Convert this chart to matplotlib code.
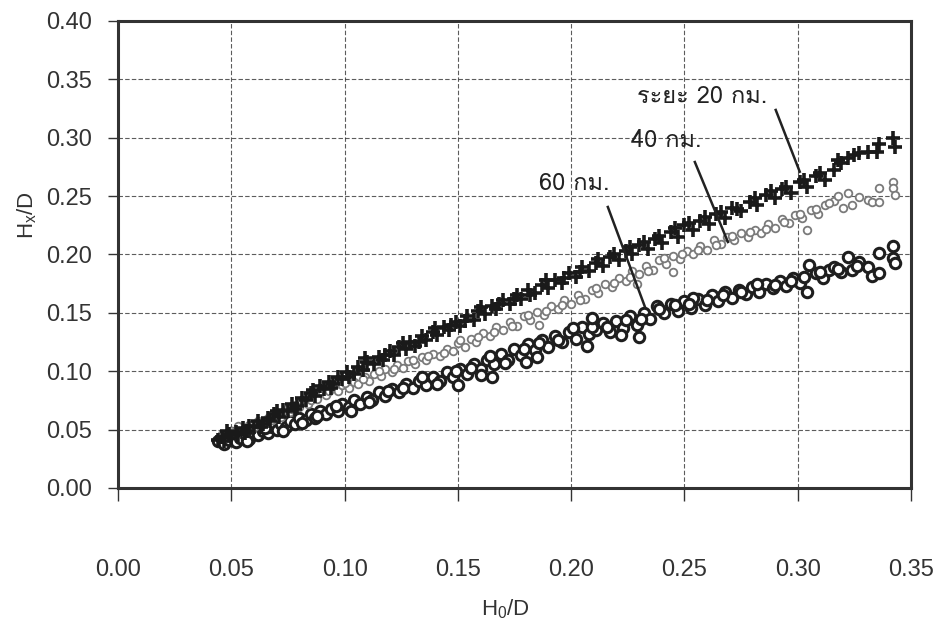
# H0/D vs Hx/D at 20, 40 and 60 km

import matplotlib
matplotlib.use('Agg')
import matplotlib.pyplot as plt
from matplotlib import font_manager
from matplotlib.ft2font import FT2Font

# readings (H0/D, Hx/D)
pts_20km = [
    (0.044, 0.041), (0.046, 0.044), (0.047, 0.040), (0.049, 0.046), (0.050, 0.043),
    (0.052, 0.048), (0.053, 0.045), (0.055, 0.051), (0.057, 0.049), (0.058, 0.053),
    (0.060, 0.052), (0.062, 0.057), (0.064, 0.055), (0.066, 0.060), (0.067, 0.057),
    (0.069, 0.063), (0.071, 0.061), (0.073, 0.067), (0.075, 0.066), (0.077, 0.072),
    (0.079, 0.070), (0.081, 0.077), (0.083, 0.075), (0.085, 0.081), (0.087, 0.079),
    (0.089, 0.087), (0.091, 0.085), (0.093, 0.091), (0.095, 0.089), (0.097, 0.095),
    (0.099, 0.093), (0.101, 0.099), (0.104, 0.098), (0.106, 0.104), (0.108, 0.101),
    (0.110, 0.108), (0.113, 0.106), (0.115, 0.112), (0.117, 0.110), (0.120, 0.117),
    (0.122, 0.114), (0.124, 0.121), (0.127, 0.119), (0.129, 0.125), (0.131, 0.122),
    (0.134, 0.130), (0.136, 0.127), (0.139, 0.134), (0.141, 0.131), (0.144, 0.138),
    (0.146, 0.135), (0.149, 0.142), (0.151, 0.139), (0.154, 0.147), (0.157, 0.144),
    (0.159, 0.152), (0.162, 0.149), (0.165, 0.156), (0.167, 0.153), (0.170, 0.161),
    (0.173, 0.158), (0.176, 0.165), (0.178, 0.162), (0.181, 0.170), (0.184, 0.167),
    (0.187, 0.174), (0.190, 0.171), (0.193, 0.178), (0.196, 0.176), (0.199, 0.184),
    (0.202, 0.181), (0.205, 0.189), (0.208, 0.186), (0.211, 0.193), (0.214, 0.190),
    (0.217, 0.198), (0.221, 0.195), (0.224, 0.203), (0.227, 0.200), (0.230, 0.208),
    (0.234, 0.205), (0.237, 0.213), (0.240, 0.210), (0.244, 0.219), (0.247, 0.215),
    (0.250, 0.225), (0.254, 0.221), (0.257, 0.229), (0.261, 0.226), (0.264, 0.235),
    (0.268, 0.231), (0.271, 0.240), (0.275, 0.237), (0.279, 0.245), (0.282, 0.242),
    (0.286, 0.251), (0.290, 0.248), (0.293, 0.256), (0.297, 0.253), (0.301, 0.262),
    (0.304, 0.258), (0.308, 0.267), (0.312, 0.264), (0.316, 0.272), (0.319, 0.278),
    (0.322, 0.283), (0.327, 0.287), (0.331, 0.288), (0.335, 0.288), (0.336, 0.295),
    (0.342, 0.300), (0.343, 0.292),
    (0.048, 0.049), (0.056, 0.047), (0.063, 0.052), (0.070, 0.066), (0.078, 0.068),
    (0.086, 0.084), (0.094, 0.086), (0.102, 0.095), (0.109, 0.111), (0.118, 0.114),
    (0.126, 0.124), (0.133, 0.125), (0.140, 0.137), (0.147, 0.140), (0.153, 0.143),
    (0.160, 0.155), (0.168, 0.158), (0.175, 0.162), (0.182, 0.165), (0.189, 0.178),
    (0.197, 0.180), (0.204, 0.185), (0.212, 0.196), (0.219, 0.200), (0.226, 0.206),
    (0.232, 0.211), (0.239, 0.216), (0.246, 0.223), (0.252, 0.227), (0.259, 0.232),
    (0.266, 0.236), (0.273, 0.239), (0.281, 0.248), (0.288, 0.254), (0.295, 0.258),
    (0.303, 0.264), (0.310, 0.270), (0.318, 0.281), (0.325, 0.285),
]

pts_40km = [
    (0.046, 0.046), (0.048, 0.043), (0.050, 0.049), (0.052, 0.046), (0.054, 0.051),
    (0.056, 0.049), (0.058, 0.054), (0.060, 0.052), (0.062, 0.057), (0.064, 0.055),
    (0.066, 0.060), (0.068, 0.058), (0.070, 0.063), (0.072, 0.061), (0.074, 0.067),
    (0.076, 0.065), (0.078, 0.071), (0.080, 0.069), (0.082, 0.074), (0.084, 0.072),
    (0.086, 0.078), (0.088, 0.076), (0.090, 0.082), (0.092, 0.080), (0.095, 0.086),
    (0.097, 0.083), (0.099, 0.088), (0.102, 0.086), (0.104, 0.091), (0.106, 0.089),
    (0.109, 0.095), (0.111, 0.092), (0.113, 0.098), (0.116, 0.096), (0.118, 0.102),
    (0.121, 0.099), (0.123, 0.105), (0.126, 0.103), (0.128, 0.109), (0.131, 0.106),
    (0.134, 0.112), (0.136, 0.110), (0.139, 0.115), (0.142, 0.113), (0.145, 0.119),
    (0.148, 0.117), (0.150, 0.124), (0.153, 0.121), (0.156, 0.128), (0.158, 0.125),
    (0.161, 0.133), (0.164, 0.130), (0.167, 0.138), (0.170, 0.135), (0.173, 0.142),
    (0.176, 0.139), (0.179, 0.147), (0.182, 0.144), (0.185, 0.151), (0.188, 0.148),
    (0.191, 0.156), (0.194, 0.153), (0.197, 0.161), (0.200, 0.158), (0.203, 0.165),
    (0.206, 0.162), (0.209, 0.170), (0.212, 0.167), (0.215, 0.175), (0.218, 0.172),
    (0.221, 0.180), (0.224, 0.177), (0.227, 0.186), (0.230, 0.183), (0.233, 0.190),
    (0.236, 0.187), (0.239, 0.195), (0.242, 0.192), (0.245, 0.199), (0.248, 0.196),
    (0.251, 0.203), (0.254, 0.200), (0.257, 0.207), (0.260, 0.204), (0.263, 0.212),
    (0.266, 0.209), (0.269, 0.215), (0.272, 0.212), (0.275, 0.218), (0.278, 0.215),
    (0.281, 0.221), (0.284, 0.218), (0.287, 0.226), (0.290, 0.223), (0.293, 0.230),
    (0.296, 0.227), (0.299, 0.234), (0.302, 0.231), (0.304, 0.221), (0.306, 0.238),
    (0.309, 0.235), (0.312, 0.242), (0.316, 0.246), (0.320, 0.240), (0.322, 0.253),
    (0.324, 0.242), (0.327, 0.249), (0.331, 0.247), (0.333, 0.245), (0.336, 0.257),
    (0.336, 0.245), (0.342, 0.262), (0.342, 0.257), (0.343, 0.251), (0.229, 0.175),
    (0.186, 0.140), (0.245, 0.185),
    (0.053, 0.053), (0.061, 0.055), (0.069, 0.061), (0.077, 0.068), (0.085, 0.075),
    (0.093, 0.083), (0.100, 0.090), (0.108, 0.093), (0.115, 0.100), (0.122, 0.102),
    (0.130, 0.110), (0.137, 0.113), (0.144, 0.116), (0.151, 0.127), (0.159, 0.129),
    (0.166, 0.134), (0.174, 0.139), (0.181, 0.148), (0.189, 0.152), (0.196, 0.157),
    (0.204, 0.161), (0.211, 0.171), (0.219, 0.176), (0.226, 0.181), (0.234, 0.186),
    (0.241, 0.197), (0.249, 0.200), (0.256, 0.204), (0.264, 0.208), (0.271, 0.216),
    (0.279, 0.219), (0.286, 0.222), (0.294, 0.228), (0.301, 0.235), (0.308, 0.239),
    (0.314, 0.244), (0.318, 0.250),
]

pts_60km = [
    (0.044, 0.040), (0.046, 0.043), (0.047, 0.038), (0.049, 0.041), (0.051, 0.044),
    (0.052, 0.039), (0.054, 0.043), (0.056, 0.046), (0.058, 0.042), (0.060, 0.047),
    (0.062, 0.045), (0.064, 0.049), (0.066, 0.047), (0.068, 0.052), (0.070, 0.050),
    (0.072, 0.055), (0.074, 0.052), (0.076, 0.057), (0.078, 0.055), (0.080, 0.060),
    (0.083, 0.058), (0.085, 0.063), (0.087, 0.060), (0.089, 0.066), (0.092, 0.063),
    (0.094, 0.068), (0.097, 0.066), (0.099, 0.072), (0.102, 0.069), (0.104, 0.075),
    (0.107, 0.072), (0.110, 0.078), (0.112, 0.075), (0.115, 0.082), (0.118, 0.079),
    (0.121, 0.085), (0.124, 0.082), (0.127, 0.089), (0.130, 0.086), (0.133, 0.092),
    (0.136, 0.088), (0.139, 0.095), (0.142, 0.092), (0.145, 0.099), (0.148, 0.095),
    (0.151, 0.102), (0.154, 0.098), (0.157, 0.106), (0.160, 0.102), (0.163, 0.110),
    (0.166, 0.106), (0.169, 0.115), (0.172, 0.110), (0.175, 0.119), (0.178, 0.114),
    (0.181, 0.123), (0.184, 0.118), (0.187, 0.127), (0.190, 0.121), (0.193, 0.130),
    (0.196, 0.125), (0.199, 0.134), (0.202, 0.128), (0.205, 0.138), (0.208, 0.132),
    (0.211, 0.135), (0.214, 0.141), (0.217, 0.134), (0.220, 0.143), (0.223, 0.137),
    (0.226, 0.147), (0.229, 0.140), (0.232, 0.150), (0.235, 0.145), (0.238, 0.156),
    (0.241, 0.150), (0.244, 0.158), (0.247, 0.152), (0.250, 0.160), (0.253, 0.154),
    (0.256, 0.162), (0.259, 0.157), (0.262, 0.165), (0.265, 0.160), (0.268, 0.168),
    (0.271, 0.163), (0.274, 0.170), (0.277, 0.166), (0.280, 0.172), (0.283, 0.168),
    (0.286, 0.175), (0.289, 0.171), (0.292, 0.177), (0.295, 0.173), (0.298, 0.180),
    (0.301, 0.176), (0.304, 0.168), (0.305, 0.191), (0.308, 0.184), (0.311, 0.180),
    (0.314, 0.187), (0.316, 0.189), (0.319, 0.185), (0.322, 0.198), (0.324, 0.187),
    (0.327, 0.194), (0.331, 0.189), (0.333, 0.182), (0.336, 0.201), (0.336, 0.184),
    (0.342, 0.207), (0.342, 0.197), (0.343, 0.193), (0.254, 0.163), (0.150, 0.088),
    (0.165, 0.095), (0.185, 0.112), (0.207, 0.122), (0.230, 0.129),
    (0.050, 0.047), (0.057, 0.040), (0.065, 0.051), (0.073, 0.049), (0.081, 0.056),
    (0.088, 0.062), (0.096, 0.070), (0.103, 0.066), (0.111, 0.074), (0.119, 0.083),
    (0.126, 0.086), (0.134, 0.095), (0.141, 0.089), (0.149, 0.100), (0.156, 0.103),
    (0.164, 0.113), (0.171, 0.107), (0.179, 0.119), (0.186, 0.124), (0.194, 0.127),
    (0.201, 0.137), (0.209, 0.138), (0.216, 0.138), (0.224, 0.144), (0.231, 0.145),
    (0.239, 0.153), (0.246, 0.157), (0.252, 0.158), (0.260, 0.161), (0.267, 0.165),
    (0.275, 0.168), (0.282, 0.175), (0.290, 0.174), (0.297, 0.177), (0.303, 0.181),
    (0.310, 0.185), (0.318, 0.188), (0.326, 0.190), (0.209, 0.146), (0.222, 0.131),
    (0.180, 0.108), (0.160, 0.097),
]

x_ticks = [0.00, 0.05, 0.10, 0.15, 0.20, 0.25, 0.30, 0.35]
y_ticks = [0.00, 0.05, 0.10, 0.15, 0.20, 0.25, 0.30, 0.35, 0.40]

# label text, text position, line start, line end
callouts = [
    ('ระยะ 20 กม.', (0.258, 0.335), (0.2903, 0.3238), (0.3009, 0.2709)),
    ('40 กม.', (0.2418, 0.298), (0.2546, 0.2792), (0.2692, 0.2107)),
    ('60 กม.', (0.2012, 0.261), (0.2162, 0.2407), (0.2326, 0.1550)),
]


def find_thai_font():
    # installed font with Thai glyphs, regular weight preferred
    found = []
    for f in font_manager.fontManager.ttflist:
        try:
            if ord('ก') in FT2Font(f.fname).get_charmap():
                found.append(f)
        except Exception:
            continue
    if not found:
        return 'DejaVu Sans'
    found.sort(key=lambda f: (f.style != 'normal', abs(font_manager.weight_dict.get(f.weight, f.weight) - 400)
                              if not isinstance(f.weight, str) else 0))
    return found[0].name


names = {f.name for f in font_manager.fontManager.ttflist}
num_font = 'Liberation Sans Narrow' if 'Liberation Sans Narrow' in names else 'Liberation Sans'
thai_font = find_thai_font()

fig = plt.figure(figsize=(9.41, 6.4), dpi=100)
ax = fig.add_axes([0.1254, 0.2375, 0.8427, 0.7297])

for name, pts in [('60', pts_60km), ('40', pts_40km), ('20', pts_20km)]:
    xs = [p[0] for p in pts]
    ys = [p[1] for p in pts]
    if name == '20':
        ax.plot(xs, ys, '+', color='#1a1a1a', ms=10, mew=2.6, zorder=4)
    elif name == '40':
        ax.plot(xs, ys, 'o', mfc='white', mec='#7a7a7a', ms=5.5, mew=1.3, zorder=3)
    else:
        ax.plot(xs, ys, 'o', mfc='white', mec='#1e1e1e', ms=7.5, mew=2.2, zorder=2)

for label, txt_pos, start, end in callouts:
    ax.plot([start[0], end[0]], [start[1], end[1]], color='#222222', lw=1.8, zorder=5)
    ax.text(txt_pos[0], txt_pos[1], label, ha='center', va='center', fontweight='normal',
            fontsize=17, color='#222222', family=[thai_font, 'DejaVu Sans'], zorder=6)

ax.set_xlim(0, 0.35)
ax.set_ylim(0, 0.40)
ax.set_xticks(x_ticks)
ax.set_yticks(y_ticks)
ax.set_xticklabels([f'{v:.2f}' for v in x_ticks], family=num_font, fontsize=17)
ax.set_yticklabels([f'{v:.2f}' for v in y_ticks], family='Liberation Sans', fontsize=17)
ax.tick_params(axis='x', direction='out', length=9, width=1, pad=42, colors='#333333')
ax.tick_params(axis='y', direction='out', length=7, width=1, pad=12, colors='#333333')

ax.grid(True, color='#333333', lw=0.8, ls=(0, (4, 2)), alpha=0.8)
ax.set_axisbelow(True)
for sp in ax.spines.values():
    sp.set_linewidth(2.2)
    sp.set_color('#333333')

ax.set_xlabel(r'$\mathregular{H_0/D}$', family=num_font, fontsize=16, color='#333333')
ax.xaxis.set_label_coords(0.488, -0.235)
ax.set_ylabel(r'$\mathregular{H_x/D}$', family='Liberation Sans', fontsize=16, color='#333333')
ax.yaxis.set_label_coords(-0.10, 0.585)

fig.savefig('out.png', dpi=100, facecolor='white')
